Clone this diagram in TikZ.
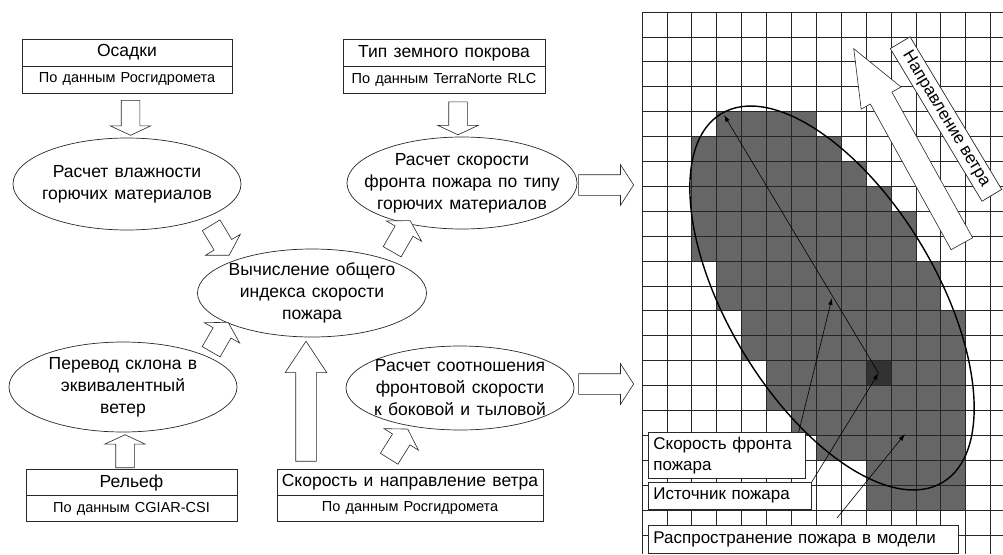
\documentclass[tikz,border=0pt]{standalone}
\usepackage{fontspec}
\setmainfont{Liberation Sans}
\newfontfamily\flowfont{Liberation Sans}[WordSpace=1.3]
\usepackage{tikz}
\usetikzlibrary{arrows.meta,positioning,calc,shapes.geometric,shapes.arrows}
\definecolor{cellgray}{RGB}{102,102,102}
\definecolor{srcgray}{RGB}{50,50,50}
\definecolor{edgegray}{RGB}{40,40,40}

\begin{document}
\begin{tikzpicture}[x=1pt, y=-1pt,
    box/.style={draw=edgegray, line width=0.7pt, outer sep=0pt, minimum height=27pt, inner sep=0pt, font=\flowfont\fontsize{17.5}{21}\selectfont},
    srcbox/.style={box, font=\flowfont\fontsize{14.5}{17}\selectfont},
    oval/.style={ellipse, draw=edgegray, line width=0.7pt, inner sep=0pt, minimum width=228pt, minimum height=90pt},
    ovaltext/.style={align=center, inner sep=0pt, font=\flowfont\fontsize{17.5}{22}\selectfont},
    fat/.style={single arrow, draw=edgegray, fill=white, line width=0.6pt, inner sep=0pt, minimum width=0pt, anchor=tail,
        inner ysep=9pt, single arrow head extend=11pt, single arrow tip angle=130},
    fatdiag/.style={fat, inner ysep=10pt, single arrow head extend=10pt, single arrow tip angle=118},
    fatbig/.style={fat, inner ysep=10pt, single arrow head extend=10.5pt, single arrow tip angle=67},
    fatside/.style={fat, inner ysep=10pt, single arrow head extend=10pt, single arrow tip angle=114},
    gridline/.style={draw=black!85, line width=0.8pt},
    lbl/.style={draw=edgegray, fill=white, line width=0.7pt, anchor=north west, align=left, inner xsep=5pt, inner ysep=2pt, font=\fontsize{17}{21}\selectfont},
    leader/.style={draw=black, line width=0.6pt, -{Latex[length=7pt,width=4.5pt]}}
]
\useasboundingbox (0,0) rectangle (1003,554);

% --- sources of data
\node[box, minimum width=210pt] (osadki) at (127,52.5) {Осадки};
\node[srcbox, minimum width=210pt, below=0pt of osadki] (osadkisrc) {По данным Росгидромета};
\node[box, minimum width=202pt] (tipz) at (444,53) {Тип земного покрова};
\node[srcbox, minimum width=202pt, below=0pt of tipz] (tipzsrc) {По данным TerraNorte RLC};
\node[box, minimum width=211pt, minimum height=26pt] (relief) at (131.5,482.5) {Рельеф};
\node[srcbox, minimum width=211pt, minimum height=26pt, below=0pt of relief] (reliefsrc) {По данным CGIAR-CSI};
\node[box, minimum width=266pt, minimum height=26pt] (windttl) at (410,482.5) {Скорость и направление ветра};
\node[srcbox, minimum width=266pt, minimum height=26pt, below=0pt of windttl] (windsrc) {По данным Росгидромета};

% --- calculation steps
\node[oval, minimum height=92pt] (vlazh) at (127,184) {};
\node[ovaltext] (vlazhtxt) at (vlazh.center) {Расчет влажности\\горючих материалов};
\node[oval, minimum width=230pt, minimum height=92pt] (front) at (462,183) {};
\node[ovaltext] (fronttxt) at (front.center) {Расчет скорости\\фронта пожара по типу\\горючих материалов};
\node[oval, minimum width=229pt, minimum height=88pt] (index) at (312,293) {};
\node[ovaltext] (indextxt) at (index.center) {Вычисление общего\\индекса скорости\\пожара};
\node[oval] (slope) at (123,387) {};
\node[ovaltext] (slopetxt) at (slope.center) {Перевод склона в\\эквивалентный\\ветер};
\node[oval, minimum height=84pt] (ratio) at (460,388) {};
\node[ovaltext] (ratiotxt) at (ratio.center) {Расчет соотношения\\фронтовой скорости\\к боковой и тыловой};

% --- block arrows
\node[fat, rotate=-90, minimum height=35pt] (a1) at ($(osadkisrc.south)+(3.5,7)$) {};
\node[fat, rotate=-90, minimum height=33pt] (a2) at ($(tipzsrc.south)+(14,8)$) {};
\node[fatdiag, rotate=-59, minimum height=35pt] (a3) at ($(vlazh.center)+(84,41)$) {};
\node[fatdiag, rotate=60, minimum height=36pt] (a4) at ($(index.center)+(80,-41)$) {};
\node[fatdiag, rotate=60, minimum height=34pt] (a5) at ($(slope.center)+(88,-35)$) {};
\node[fatdiag, rotate=58, minimum height=35pt] (a6) at ($(windttl.north)+(-21,-10.5)$) {};
\node[fat, rotate=90, minimum height=33pt] (a7) at ($(relief.north)+(-6.5,-1.5)$) {};
\node[fatbig, rotate=90, minimum height=120pt] (a8) at ($(windttl.north west)+(29,-8)$) {};
\node[fatside, minimum height=55pt] (a9) at ($(front.east)+(1,2)$) {};
\node[fatside, minimum height=55pt] (a10) at ($(ratio.east)+(4,-4)$) {};

% --- model grid
\foreach \r/\a/\b in {4/3/6, 5/2/7, 6/2/8, 7/2/9, 8/2/10, 9/2/10, 10/3/11, 11/3/11,
    12/4/12, 13/4/12, 14/5/12, 15/5/12, 16/6/12, 17/7/12, 18/9/12, 19/9/12}
    \fill[cellgray] (642+24.9*\a,12+24.9*\r) rectangle (642+24.9*\b+24.9,12+24.9*\r+24.9);
\fill[srcgray] (642+24.9*9,12+24.9*14) rectangle +(24.9,24.9);
\coordinate (src) at (642+24.9*9.5,12+24.9*14.5);
\foreach \i in {0,...,14}
    \draw[gridline] (642+24.9*\i,12) -- (642+24.9*\i,554);
\foreach \j in {0,...,21}
    \draw[gridline] (642,12+24.9*\j) -- (1003,12+24.9*\j);

\coordinate (ec) at (832,298);
\coordinate (apex) at (724,115);
\coordinate (spreadpt) at (905,434);
\draw[black, line width=1.4pt, rotate around={-59:(ec)}] (ec) ellipse [x radius=215, y radius=104];
\draw[leader] (src) -- (apex);

% wind direction
\node[fat, inner ysep=12pt, single arrow head extend=10.5pt, single arrow tip angle=44,
    rotate=119, minimum height=223pt] (windarrow) at (962,244) {};
\node[draw=edgegray, fill=white, line width=0.7pt, rotate=-59, minimum width=178pt, minimum height=23pt,
    inner sep=1pt, font=\fontsize{17}{21}\selectfont] (windlbl) at (946,119) {Направление ветра};

% legend
\node[lbl, text width=147pt, minimum height=46pt] (sf) at (648,432) {Скорость фронта\\пожара};
\node[lbl, text width=153pt, minimum height=27pt] (ist) at (648,482) {Источник пожара};
\node[lbl, text width=300pt, minimum height=28pt] (rasp) at (648,525) {Распространение пожара в модели};
\draw[leader] ($(sf.north east)+(-7,0)$) -- (ec);
\draw[leader] (ist.north east) -- (src);
\draw[leader] ($(rasp.north west)+(189,-7)$) -- (spreadpt);
\end{tikzpicture}
\end{document}
